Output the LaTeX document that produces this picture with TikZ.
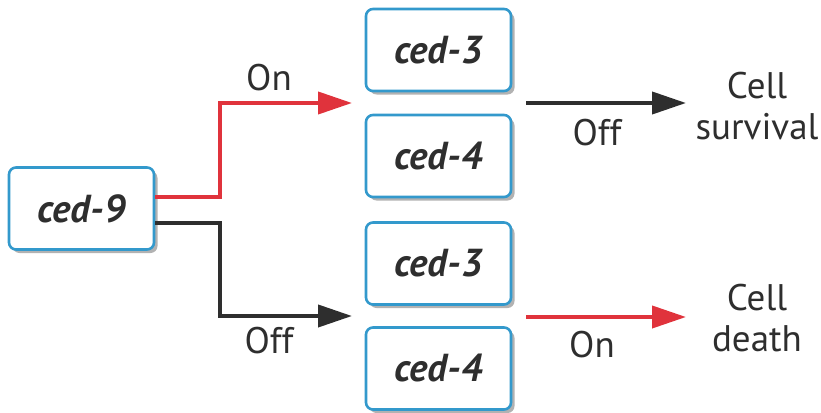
\documentclass[tikz,border=0pt]{standalone}
\usepackage{fontspec}
\setmainfont{PT Sans}
\usetikzlibrary{arrows.meta,shadows}
\definecolor{genered}{HTML}{E0333C}
\definecolor{geneblack}{HTML}{2E2E2E}
\definecolor{geneblue}{HTML}{3399CC}
\begin{document}
\begin{tikzpicture}[x=1pt,y=-1pt,
  genebox/.style={draw=geneblue, line width=2.6pt, rounded corners=7pt, fill=white,
    minimum width=145pt, minimum height=82pt, inner sep=0pt,
    text=geneblack, font=\fontsize{39}{44}\selectfont\bfseries\itshape,
    drop shadow={shadow xshift=3.5pt, shadow yshift=-3.5pt, fill=black!30, opacity=1}},
  link/.style={line width=4pt, -{Triangle[length=34pt,width=22pt]}},
  lbl/.style={text=geneblack, font=\fontsize{37}{42}\selectfont, inner sep=0pt},
  outcome/.style={text=geneblack, font=\fontsize{37}{41}\selectfont, align=center, inner sep=0pt}]
\useasboundingbox (0,0) rectangle (821,412);

% gene boxes
\node[genebox] (c9) at (81.5,208.5) {ced-9};
\node[genebox] (c3a) at (438.5,50) {ced-3};
\node[genebox] (c4a) at (438.5,156) {ced-4};
\node[genebox] (c3b) at (438.5,263.5) {ced-3};
\node[genebox] (c4b) at (438.5,368.5) {ced-4};

% arrow end points between box pairs
\coordinate (inA) at (352,103);
\coordinate (inB) at (352,316);
\coordinate (outA) at (526,103);
\coordinate (outB) at (526,317);
\coordinate (tipA) at (686,103);
\coordinate (tipB) at (686,317);

% outcomes
\node[outcome] (surv) at (757,106) {Cell\\survival};
\node[outcome] (death) at (757,318) {Cell\\death};

% ced-9 branches
\draw[link, genered] ([yshift=11.5pt]c9.east) -- (220,197) |- (inA);
\draw[link, geneblack] ([yshift=-14.5pt]c9.east) -- (220,223) |- (inB);
\draw[link, geneblack] (outA) -- (tipA);
\draw[link, genered] (outB) -- (tipB);

% state labels
\node[lbl] (onA) at (269,78) {On};
\node[lbl] (offB) at (269,341) {Off};
\node[lbl] (offA) at (597,133) {Off};
\node[lbl] (onB) at (592,345) {On};
\end{tikzpicture}
\end{document}
